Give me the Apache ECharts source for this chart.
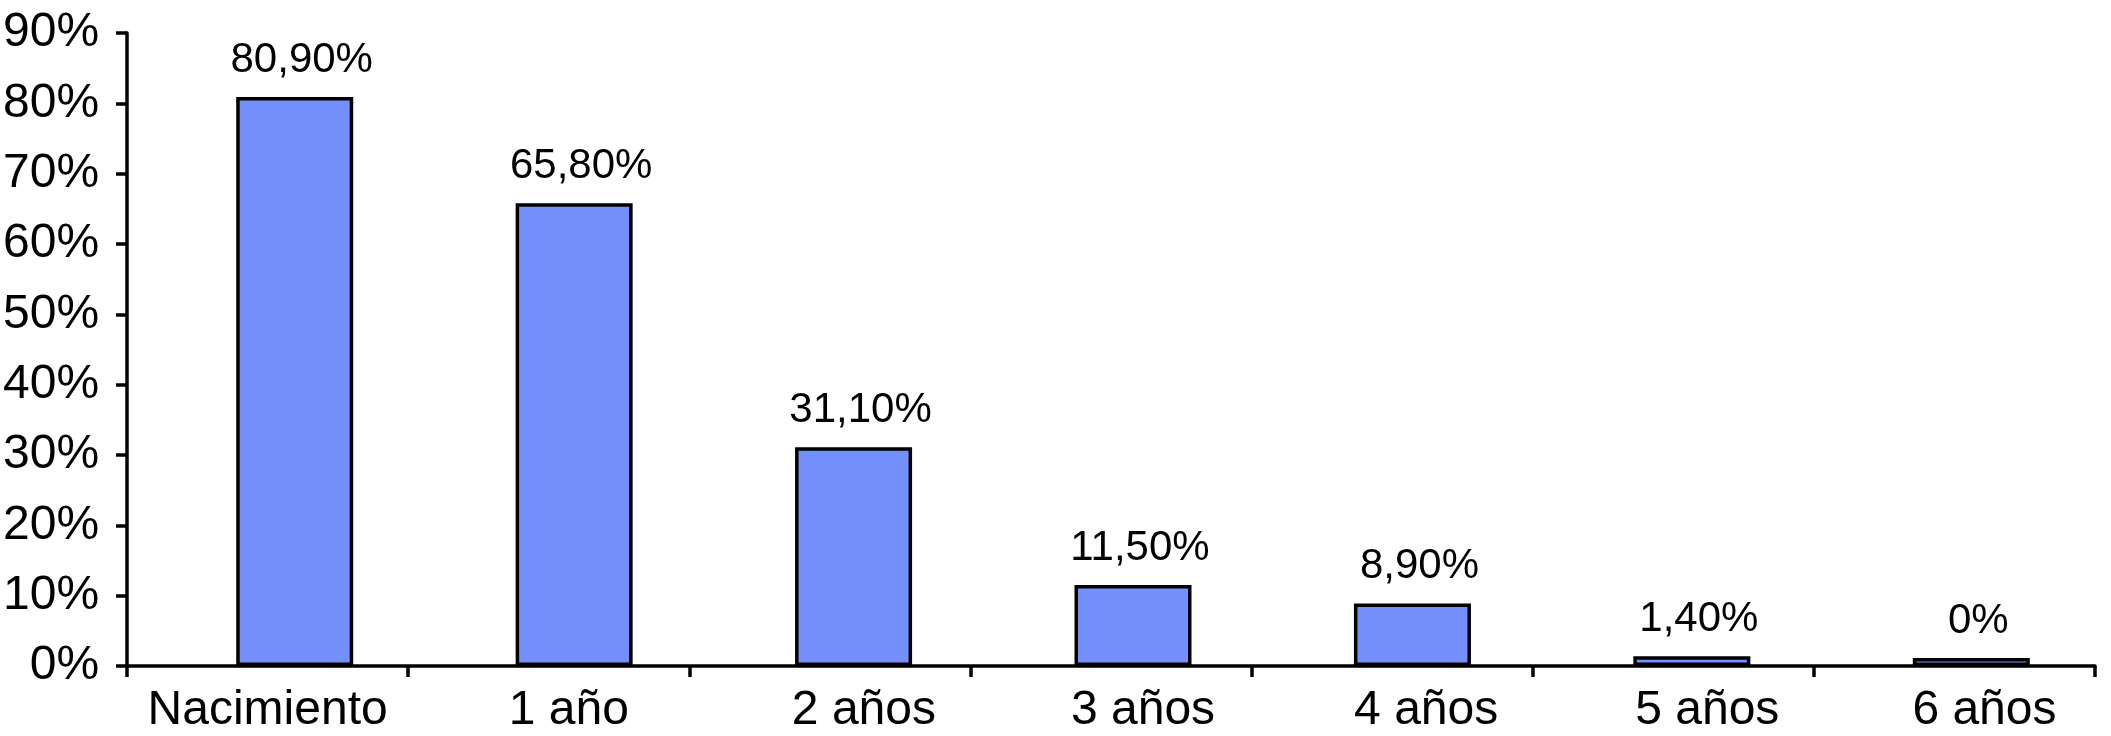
<!DOCTYPE html>
<html>
<head>
<meta charset="utf-8">
<script src="https://cdn.jsdelivr.net/npm/echarts@6/dist/echarts.min.js"></script>
<style>
html,body{margin:0;padding:0;background:#fff;}
#chart{width:2111px;height:736px;}
</style>
</head>
<body>
<div id="chart"></div>
<script>
// ---- data ----
const categories = ['Nacimiento', '1 año', '2 años', '3 años', '4 años', '5 años', '6 años'];
const values = [80.9, 65.8, 31.1, 11.5, 8.9, 1.4, 0];
const valueLabels = ['80,90%', '65,80%', '31,10%', '11,50%', '8,90%', '1,40%', '0%'];
const yTicks = [0, 10, 20, 30, 40, 50, 60, 70, 80, 90];

// ---- style / layout ----
const FONT = '"Liberation Sans", Arial, Helvetica, sans-serif';
const AXIS_FS = 48;
const labelShift = [0, 20, 34, 32, 34, 34, 30];
const rich = {};
labelShift.forEach((s, i) => { rich['o' + i] = { padding: [0, 0, 0, 2 * s], fontSize: AXIS_FS, fontFamily: FONT, color: '#000' }; });

const chart = echarts.init(document.getElementById('chart'), null, { renderer: 'canvas' });
const plotLeft = 126, plotWidth = 2095 - 126, gridTop = 33, gridBottom = 70, barShift = 29;

chart.setOption({
  animation: false,
  backgroundColor: '#fff',
  grid: [
    { left: plotLeft, width: plotWidth, top: gridTop, bottom: gridBottom, containLabel: false },
    { left: plotLeft + barShift, width: plotWidth, top: gridTop, bottom: gridBottom, containLabel: false }
  ],
  xAxis: [
    {
      type: 'category', gridIndex: 0, data: categories,
      axisLine: { lineStyle: { color: '#000', width: 3.5 } },
      axisTick: { show: true, interval: 0, length: 11, lineStyle: { color: '#000', width: 3.5 } },
      axisLabel: {
        interval: 0, margin: 21, color: '#000', fontSize: AXIS_FS, fontFamily: FONT,
        formatter: (v, i) => '{o' + i + '|' + v + '}', rich: rich
      },
      splitLine: { show: false }
    },
    {
      type: 'category', gridIndex: 1, data: categories,
      axisLine: { show: false }, axisTick: { show: false }, axisLabel: { show: false }
    }
  ],
  yAxis: [
    {
      type: 'value', gridIndex: 0, min: yTicks[0], max: yTicks[yTicks.length - 1], interval: 10,
      axisLine: { show: true, lineStyle: { color: '#000', width: 3.5 } },
      axisTick: { show: true, length: 11, lineStyle: { color: '#000', width: 3.5 } },
      axisLabel: { margin: 28, color: '#000', fontSize: AXIS_FS, fontFamily: FONT, formatter: v => v + '%' },
      splitLine: { show: false }
    },
    {
      type: 'value', gridIndex: 1, min: yTicks[0], max: yTicks[yTicks.length - 1], interval: 10,
      show: false, splitLine: { show: false }
    }
  ],
  series: [{
    type: 'bar', xAxisIndex: 1, yAxisIndex: 1,
    data: values, barWidth: 117, barMinHeight: 8,
    itemStyle: { color: '#7390FD', borderColor: '#000', borderWidth: 3.5 },
    label: {
      show: true, position: 'top', distance: 16, offset: [7, 0],
      color: '#000', fontSize: 42, fontFamily: FONT,
      formatter: p => valueLabels[p.dataIndex]
    },
    z: 1
  }]
});
</script>
</body>
</html>
